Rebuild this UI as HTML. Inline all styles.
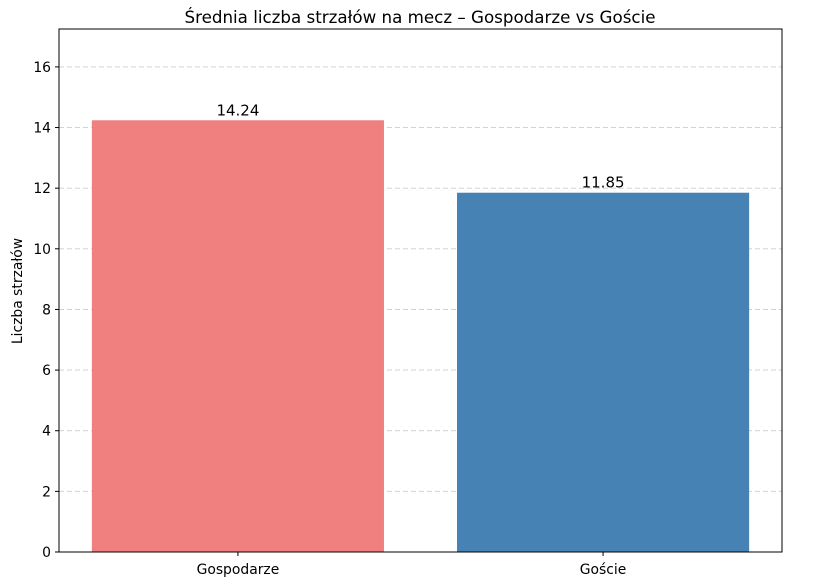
<!DOCTYPE html>
<html><head><meta charset="utf-8"><style>
html,body{margin:0;padding:0;background:#fff;}
svg text{font-family:"DejaVu Sans","Liberation Sans",sans-serif;}
</style></head><body>
<svg id="chart" width="832" height="583" xmlns="http://www.w3.org/2000/svg">
<text x="420" y="23" text-anchor="middle" font-size="16.7">Średnia liczba strzałów na mecz – Gospodarze vs Goście</text>
<g id="grid"></g>
<g id="bars"></g>
<g id="axes"></g>
<text transform="translate(22,291) rotate(-90)" text-anchor="middle" font-size="13.9">Liczba strzałów</text>
</svg>
<script>
const categories = ["Gospodarze", "Goście"];
const values = [14.24, 11.85];
const colors = ["#f08080", "#4682b4"];
const yTicks = [0, 2, 4, 6, 8, 10, 12, 14, 16];
const L = 59, R = 782, T = 29, B = 552;
const yMax = 17.25, xMin = -0.49, xMax = 1.49;
const ns = "http://www.w3.org/2000/svg";
function ys(v){ return B - v / yMax * (B - T); }
function xs(v){ return L + (v - xMin) / (xMax - xMin) * (R - L); }
function mk(tag, attrs, parent){ const e = document.createElementNS(ns, tag); for (const k in attrs) e.setAttribute(k, attrs[k]); parent.appendChild(e); return e; }
const grid = document.getElementById('grid'), bars = document.getElementById('bars'), axes = document.getElementById('axes');
yTicks.forEach(t => {
  const y = ys(t);
  if (t > 0) {
    const g = mk('line', {x1: L, x2: R, y1: y, y2: y, stroke: '#cccccc', 'stroke-dasharray': '5,3', 'stroke-width': 0.9}, grid);
    
    
  }
  const tk = mk('line', {x1: L - 4, x2: L, y1: y, y2: y, stroke: '#000'}, axes);
  
  
  const lb = mk('text', {x: L - 8, y: y + 5, 'text-anchor': 'end', 'font-size': 13.9}, axes);
  lb.textContent = t;
  
  
});
categories.forEach((c, i) => {
  const x0 = xs(i - 0.4), x1 = xs(i + 0.4), y = ys(values[i]);
  const r = mk('rect', {x: x0, y: y, width: x1 - x0, height: B - y, fill: colors[i]}, bars);
  
  
  const v = mk('text', {x: xs(i), y: y - 5, 'text-anchor': 'middle', 'font-size': 15}, bars);
  v.textContent = values[i].toFixed(2);
  
  
  const tk = mk('line', {x1: xs(i), x2: xs(i), y1: B, y2: B + 4, stroke: '#000'}, axes);
  
  
  const lb = mk('text', {x: xs(i), y: B + 22, 'text-anchor': 'middle', 'font-size': 13.9}, axes);
  lb.textContent = c;
  
  
});
const frame = mk('rect', {x: L, y: T, width: R - L, height: B - T, fill: 'none', stroke: '#000', 'stroke-width': 1}, axes);


</script>
</body></html>
